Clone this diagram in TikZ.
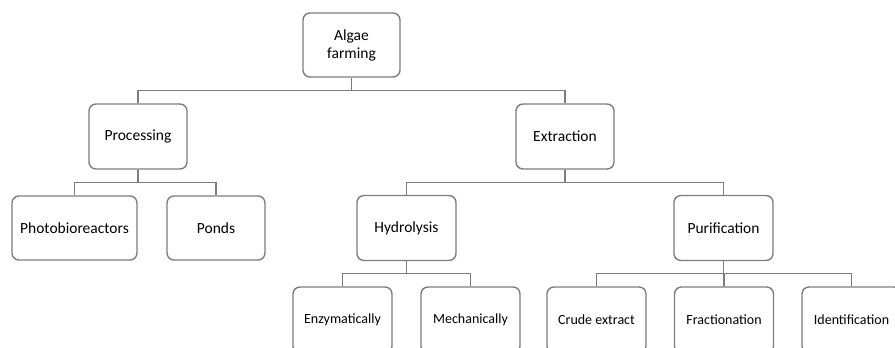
\documentclass[tikz,border=0pt]{standalone}
\usepackage{fontspec}
\setmainfont{Carlito}
\definecolor{linegray}{RGB}{125,125,125}
\tikzset{
  box/.style={draw=linegray, line width=1.4pt, rounded corners=7pt, fill=white,
    inner sep=0pt, align=center, font=\fontsize{15.5}{18}\selectfont,
    minimum height=65pt, minimum width=98pt},
  leaf/.style={box, font=\fontsize{14}{17}\selectfont, minimum width=99pt, minimum height=66pt},
  conn/.style={draw=linegray, line width=1.4pt}
}
\begin{document}
\begin{tikzpicture}[x=1pt,y=1pt]
\useasboundingbox (0,0) rectangle (895,-348);
\clip (0,0) rectangle (895,-348);
\node[box, minimum width=97pt, minimum height=64pt] (farm) at (351.5,-45) {Algae\\farming};
\node[box] (proc) at (138,-136.5) {Processing};
\node[box] (extr) at (565,-136.5) {Extraction};
\node[box, minimum width=125pt, minimum height=64pt] (photo) at (74.5,-228) {Photobioreactors};
\node[box, minimum height=64pt] (ponds) at (216,-228) {Ponds};
\node[box, minimum width=99pt] (hydro) at (406.5,-228) {Hydrolysis};
\node[box, minimum width=99pt] (puri) at (723.5,-228) {Purification};
\node[leaf] (enz) at (342.5,-320) {Enzymatically};
\node[leaf] (mech) at (470.5,-320) {Mechanically};
\node[leaf] (crude) at (596.5,-320) {Crude extract};
\node[leaf] (frac) at (724,-320) {Fractionation};
\node[leaf] (ident) at (851.5,-320) {Identification};
\coordinate (b1) at (0,-90.5);
\coordinate (b2) at (0,-182.5);
\coordinate (b3) at (0,-273.5);
% level 1
\draw[conn] (farm.south) -- (farm.south |- b1);
\draw[conn] (proc.north) -- (proc.north |- b1) -- (extr.north |- b1) -- (extr.north);
% level 2 left
\draw[conn] (proc.south) -- (proc.south |- b2);
\draw[conn] (photo.north) -- (photo.north |- b2) -- (ponds.north |- b2) -- (ponds.north);
% level 2 right
\draw[conn] (extr.south) -- (extr.south |- b2);
\draw[conn] (hydro.north) -- (hydro.north |- b2) -- (puri.north |- b2) -- (puri.north);
% level 3 hydrolysis
\draw[conn] (hydro.south) -- (hydro.south |- b3);
\draw[conn] (enz.north) -- (enz.north |- b3) -- (mech.north |- b3) -- (mech.north);
% level 3 purification
\draw[conn] (puri.south) -- (puri.south |- b3);
\draw[conn] (crude.north) -- (crude.north |- b3) -- (ident.north |- b3) -- (ident.north);
\draw[conn] (frac.north) -- (frac.north |- b3);
\end{tikzpicture}
\end{document}
